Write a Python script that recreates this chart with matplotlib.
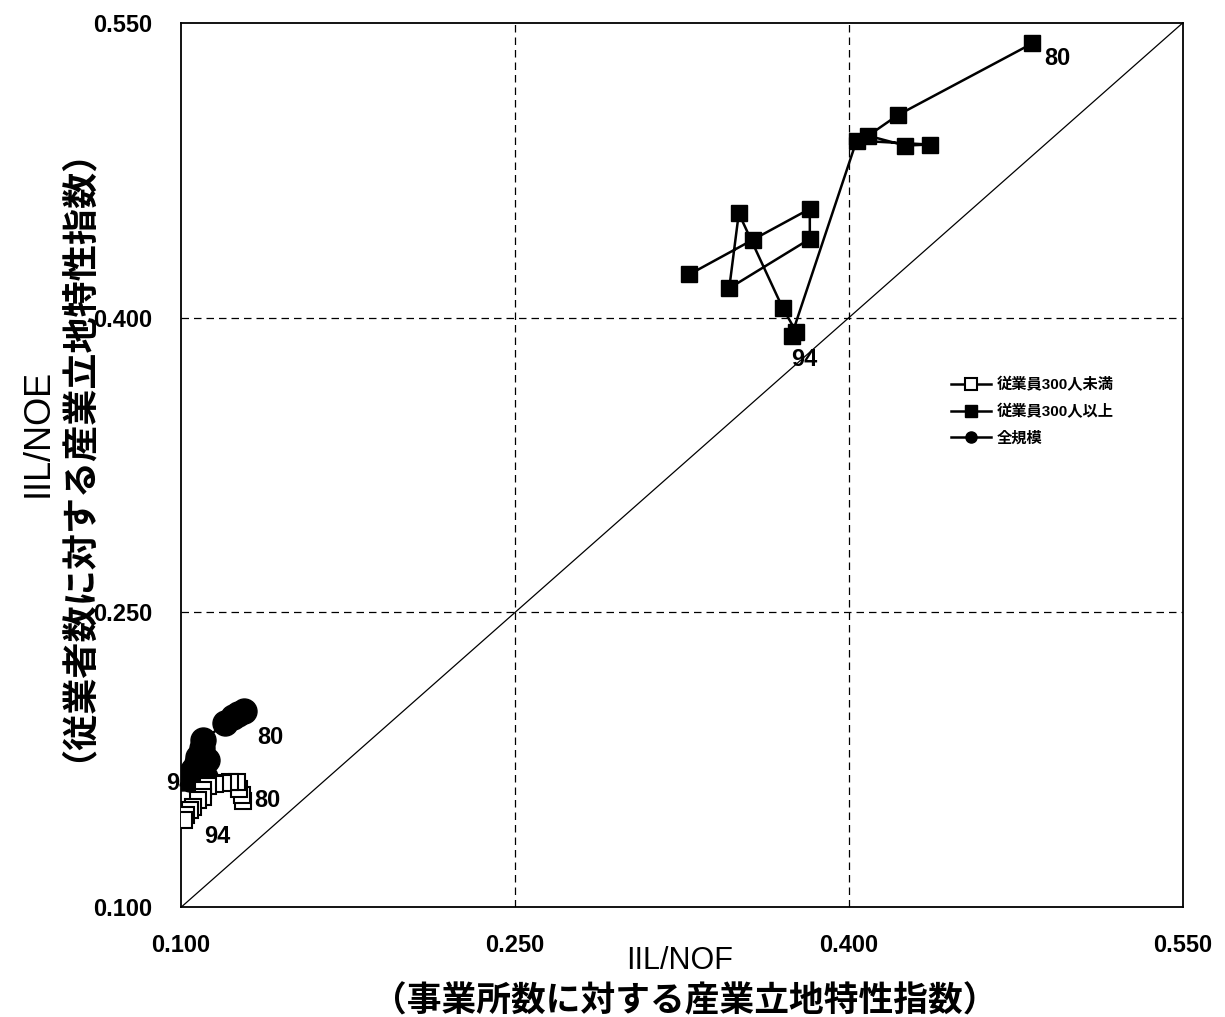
import matplotlib
matplotlib.use('Agg')
import matplotlib.pyplot as plt
from matplotlib.lines import Line2D

#-----------------
# DATA (IIL/NOF , IIL/NOE), 1980 -> 1994
#-----------------
years = list(range(1980, 1995))

# 従業員300人未満 (open squares)
small_x = [0.1277, 0.1273, 0.1260, 0.1253, 0.1220, 0.1190, 0.1153, 0.1121,
           0.1100, 0.1100, 0.1076, 0.1055, 0.1040, 0.1022, 0.1013]
small_y = [0.1541, 0.1570, 0.1604, 0.1638, 0.1637, 0.1630, 0.1626, 0.1616,
           0.1596, 0.1562, 0.1545, 0.1511, 0.1494, 0.1469, 0.1443]

# 従業員300人以上 (filled squares)
large_x = [0.4824, 0.4221, 0.4086, 0.4251, 0.4363, 0.4034, 0.3742, 0.3764,
           0.3702, 0.3505, 0.3462, 0.3824, 0.3824, 0.3567, 0.3282]
large_y = [0.5395, 0.5031, 0.4925, 0.4875, 0.4880, 0.4900, 0.3908, 0.3925,
           0.4049, 0.4530, 0.4149, 0.4400, 0.4553, 0.4395, 0.4219]

# 全規模 (circles)
all_x = [0.1284, 0.1256, 0.1235, 0.1198, 0.1100, 0.1093, 0.1117, 0.1078,
         0.1070, 0.1085, 0.1055, 0.1108, 0.1018, 0.1040, 0.1003]
all_y = [0.2000, 0.1985, 0.1969, 0.1935, 0.1850, 0.1808, 0.1748, 0.1765,
         0.1732, 0.1690, 0.1698, 0.1664, 0.1664, 0.1650, 0.1657]

ticks = [0.100, 0.250, 0.400, 0.550]
labels = ['従業員300人未満', '従業員300人以上', '全規模']

jp = ['Liberation Sans', 'Noto Sans CJK JP', 'DejaVu Sans']
plt.rcParams['mathtext.fontset'] = 'custom'
plt.rcParams['mathtext.rm'] = 'Liberation Sans'

ylab = r'$\mathrm{IIL/NOE}$' + '\n（従業者数に対する産業立地特性指数）'

#-----------------
# PLOT
#-----------------
fig = plt.figure(figsize=(12.25, 10.17), dpi=100)
ax = fig.add_axes([0.1478, 0.1079, 0.8179, 0.8698])

ax.set_xlim(0.1, 0.55)
ax.set_ylim(0.1, 0.55)

# grid and diagonal
for t in ticks[1:3]:
    ax.axvline(t, color='black', lw=0.9, ls=(0, (6, 4)), zorder=1)
    ax.axhline(t, color='black', lw=0.9, ls=(0, (6, 4)), zorder=1)
ax.plot([0.1, 0.55], [0.1, 0.55], color='black', lw=0.9, zorder=1)

ax.plot(all_x, all_y, '-o', color='black', lw=1.8, ms=18, mfc='black',
        mec='black', zorder=3)
ax.plot(small_x, small_y, '-s', color='black', lw=1.8, ms=11, mfc='white',
        mec='black', mew=1.5, zorder=4)
ax.plot(large_x, large_y, '-s', color='black', lw=1.8, ms=11.5, mfc='black',
        mec='black', zorder=4)

# year labels
lab = dict(fontsize=17, fontweight='bold', family=jp,
           textcoords='offset points', ha='center', va='center')
ax.annotate('80', (large_x[0], large_y[0]), xytext=(18, -11), zorder=5, **lab)
ax.annotate('94', (large_x[6], large_y[6]), xytext=(9, -17), zorder=5, **lab)
ax.annotate('80', (small_x[0], small_y[0]), xytext=(18, 0), zorder=5, **lab)
ax.annotate('94', (small_x[-1], small_y[-1]), xytext=(24, -12), zorder=5, **lab)
ax.annotate('80', (all_x[0], all_y[0]), xytext=(19, -19), zorder=5, **lab)
ax.annotate('94', (all_x[-1], all_y[-1]), xytext=(-2, -4), zorder=2, **lab)

# ticks
ax.set_xticks(ticks)
ax.set_yticks(ticks)
ax.set_xticklabels(['%.3f' % t for t in ticks])
ax.set_yticklabels(['%.3f' % t for t in ticks])
ax.tick_params(length=0, labelsize=17)
ax.tick_params(axis='x', pad=19)
ax.tick_params(axis='y', pad=21)
for t in ax.get_xticklabels() + ax.get_yticklabels():
    t.set_fontweight('bold')
    t.set_family(jp)
for s in ax.spines.values():
    s.set_linewidth(1.3)

# axis labels
ax.text(0.498, -0.061, 'IIL/NOF', transform=ax.transAxes, ha='center',
        va='center', fontsize=22, family=jp)
ax.text(0.503, -0.107, '（事業所数に対する産業立地特性指数）', transform=ax.transAxes,
        ha='center', va='center', fontsize=25, fontweight='bold', family=jp)
ax.text(-0.130, 0.532, ylab, transform=ax.transAxes, ha='center', va='center',
        multialignment='center', fontsize=26, fontweight='bold', family=jp,
        rotation=90, linespacing=0.4)

# legend
handles = [
    Line2D([], [], color='black', lw=1.8, marker='s', ms=8, mfc='white', mec='black', mew=1.5),
    Line2D([], [], color='black', lw=1.8, marker='s', ms=8, mfc='black', mec='black'),
    Line2D([], [], color='black', lw=1.8, marker='o', ms=8, mfc='black', mec='black'),
]
ax.legend(handles, labels, loc='upper left', bbox_to_anchor=(0.755, 0.615),
          frameon=False, handlelength=2.6, handletextpad=0.4, labelspacing=0.78,
          prop={'family': jp, 'weight': 'bold', 'size': 11})

fig.savefig('out.png', dpi=100)
